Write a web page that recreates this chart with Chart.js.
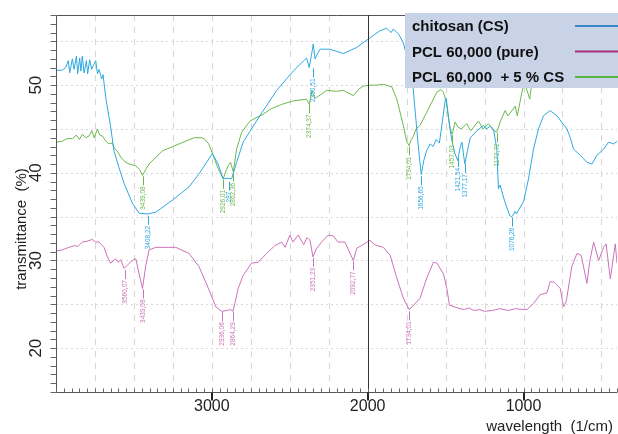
<!DOCTYPE html>
<html>
<head>
<meta charset="utf-8">
<script src="https://cdn.jsdelivr.net/npm/chart.js@4.4.0/dist/chart.umd.min.js"></script>
<style>
  html, body { margin: 0; padding: 0; background: #fff; }
  #wrap { width: 618px; height: 434px; position: relative; }
</style>
</head>
<body>
<div id="wrap"><canvas id="ftirChart"></canvas></div>
<script>
// wavenumbers (1/cm) and transmittance (%)
const csWn = [4000, 3960, 3938, 3921, 3912, 3895, 3884, 3869, 3861, 3848, 3840, 3831, 3820, 3805, 3797, 3784, 3771, 3756, 3745, 3734, 3724, 3707, 3698,
  3681, 3649, 3628, 3596, 3563, 3509, 3467, 3413, 3360, 3252, 3146, 3082, 2996, 2960, 2927, 2897, 2873, 2841, 2799, 2692, 2584, 2478, 2392, 2375, 2360,
  2349, 2338, 2306, 2242, 2156, 2070, 1985, 1921, 1878, 1850, 1835, 1800, 1771, 1730, 1708, 1690, 1672, 1656, 1640, 1622, 1600, 1580, 1560, 1540, 1524,
  1503, 1496, 1481, 1460, 1440, 1422, 1407, 1395, 1377, 1342, 1299, 1257, 1240, 1214, 1193, 1171, 1161, 1150, 1120, 1088, 1076, 1066, 1055, 1045, 1030,
  1000, 968, 936, 904, 872, 829, 786, 721, 700, 679, 636, 593, 561, 529, 486, 454, 422, 400];
const csT = [51.7, 51.7, 52.0, 52.8, 51.4, 53.0, 51.8, 53.3, 51.3, 53.1, 51.6, 53.3, 51.4, 52.8, 51.3, 52.9, 51.8, 52.4, 52.8, 51.3, 51.8, 50.7, 51.2,
  48.6, 45.2, 42.5, 40.6, 38.8, 36.5, 35.4, 35.3, 35.5, 36.9, 38.4, 39.9, 42.2, 41.0, 39.3, 39.4, 39.3, 41.2, 43.5, 46.5, 49.4, 51.6, 53.1, 52.0, 53.5,
  54.7, 53.0, 54.1, 54.1, 53.6, 54.3, 55.4, 56.2, 56.5, 56.0, 56.4, 55.8, 54.8, 52.0, 49.6, 46.0, 42.5, 39.8, 41.4, 42.5, 43.3, 43.0, 43.8, 43.4, 45.4,
  48.2, 48.5, 46.3, 43.7, 42.2, 41.4, 42.9, 43.5, 41.0, 44.0, 44.8, 45.4, 45.0, 45.3, 45.0, 42.7, 38.2, 38.6, 36.7, 35.1, 35.0, 35.2, 35.6, 35.3, 35.8,
  36.7, 39.3, 42.7, 45.0, 46.5, 47.1, 46.5, 45.0, 44.0, 42.7, 42.0, 41.2, 41.0, 42.0, 42.7, 43.5, 43.3, 43.6];

const pclWn = [4000, 3960, 3917, 3880, 3860, 3831, 3800, 3767, 3745, 3724, 3692, 3670, 3649, 3617, 3600, 3585, 3563, 3540, 3510, 3488, 3467, 3445, 3425,
  3403, 3360, 3231, 3146, 3082, 3017, 2974, 2936, 2900, 2880, 2864, 2831, 2799, 2745, 2702, 2649, 2595, 2552, 2530, 2499, 2480, 2446, 2410, 2390, 2370,
  2351, 2330, 2295, 2253, 2220, 2190, 2146, 2092, 2070, 2040, 1985, 1955, 1900, 1856, 1813, 1771, 1734, 1710, 1664, 1621, 1578, 1556, 1514, 1492, 1475,
  1407, 1380, 1350, 1320, 1280, 1250, 1200, 1150, 1100, 1050, 1000, 978, 936, 893, 850, 828, 800, 764, 743, 725, 690, 657, 630, 593, 575, 550, 518, 486,
  470, 443, 411, 400];
const pclT = [31.1, 31.2, 31.5, 31.7, 31.6, 32.1, 32.2, 32.4, 32.1, 32.1, 31.5, 30.4, 29.7, 30.2, 29.8, 30.1, 29.1, 29.5, 30.0, 30.2, 28.5, 26.8, 29.3,
  31.2, 31.5, 31.5, 30.8, 29.3, 26.6, 24.7, 24.2, 24.3, 24.4, 24.2, 26.8, 28.3, 29.7, 29.8, 30.8, 31.7, 32.1, 31.5, 32.9, 32.1, 32.9, 31.8, 32.6, 32.3,
  30.4, 31.3, 32.1, 32.9, 32.8, 32.1, 32.1, 30.0, 31.4, 31.7, 32.3, 31.8, 31.5, 30.6, 28.0, 25.7, 24.4, 24.8, 25.7, 28.0, 29.8, 29.7, 28.5, 26.8, 24.9,
  24.5, 24.4, 24.6, 24.3, 24.4, 24.2, 24.3, 24.5, 24.3, 24.5, 24.4, 24.4, 25.1, 26.1, 26.3, 27.6, 27.5, 26.8, 24.7, 25.4, 29.3, 30.8, 30.6, 27.4, 29.9,
  32.1, 30.0, 31.5, 31.9, 27.9, 31.9, 29.7];

const blendWn = [4000, 3960, 3930, 3895, 3870, 3850, 3831, 3810, 3788, 3770, 3755, 3734, 3720, 3702, 3680, 3660, 3640, 3628, 3600, 3585, 3560, 3531,
  3510, 3488, 3465, 3445, 3420, 3403, 3317, 3210, 3114, 3070, 3049, 3020, 2996, 2960, 2927, 2910, 2895, 2880, 2862, 2841, 2809, 2756, 2670, 2620, 2552,
  2478, 2392, 2374, 2358, 2340, 2327, 2263, 2200, 2156, 2092, 2060, 2028, 1985, 1942, 1900, 1845, 1813, 1771, 1750, 1734, 1720, 1706, 1690, 1664, 1621,
  1590, 1556, 1530, 1514, 1495, 1471, 1457, 1439, 1420, 1400, 1364, 1340, 1320, 1289, 1260, 1225, 1200, 1172, 1150, 1118, 1100, 1053, 1040, 1010, 995,
  970, 960, 945, 920, 880, 800, 700, 600, 500, 400];
const blendT = [43.5, 43.6, 43.9, 43.9, 44.3, 43.8, 44.4, 44.0, 44.2, 44.8, 44.0, 45.0, 44.3, 44.2, 43.6, 43.3, 43.4, 42.9, 42.3, 41.8, 41.3, 41.0,
  40.9, 40.8, 40.4, 39.7, 40.5, 41.0, 42.5, 43.3, 44.0, 44.0, 43.9, 43.3, 42.2, 40.5, 39.3, 40.2, 40.8, 41.2, 40.1, 42.7, 44.6, 45.9, 46.7, 47.3, 47.8,
  48.2, 48.4, 47.8, 49.4, 48.5, 48.6, 49.4, 49.3, 49.4, 48.8, 49.5, 49.9, 50.0, 50.0, 50.1, 49.8, 48.4, 45.4, 43.6, 43.1, 43.8, 44.2, 45.0, 45.4, 46.9,
  48.0, 49.2, 49.5, 49.2, 48.0, 45.0, 44.4, 45.8, 45.2, 45.0, 45.6, 44.8, 45.2, 45.9, 45.0, 45.6, 45.0, 44.6, 45.8, 47.1, 46.5, 47.6, 46.5, 49.2, 50.3,
  49.0, 48.4, 50.5, 52.0, 53.0, 53.5, 54.5, 55.0, 55.5, 55.5];

// peak labels: [wavenumber, transmittance at the top of the leader, text]
const csPeaks = [[3408, 35.1, '3408,22'], [2889, 39.0, '287'], [2351, 51.9, '2350,51'], [1656, 39.6, '1656,65'],
  [1421, 41.7, '1421,54'], [1377, 41.0, '1377,17'], [1076, 34.9, '1076,26']];
const blendPeaks = [[3439, 39.6, '3439,08'], [2926, 39.2, '2926,01'], [2862, 40.0, '2862,36'], [2374, 47.8, '2374,37'],
  [1734, 43.0, '1734,01'], [1457, 44.3, '1457,03'], [1172, 44.5, '1172,72']];
const pclPeaks = [[3560, 28.9, '3560,07'], [3439, 26.7, '3439,08'], [2936, 24.1, '2936,06'], [2864, 24.1, '2864,29'],
  [2351, 30.3, '2351,23'], [2092, 29.9, '2092,77'], [1734, 24.2, '1734,01']];

const yTickLabels = [20, 30, 40, 50];
const xTickLabels = [3000, 2000, 1000];

const seriesNames = ['chitosan (CS)', 'PCL 60,000 (pure)', 'PCL 60,000  + 5 % CS'];
const lineColors = ['#2ea8e0', '#cc72b8', '#6cb84e'];
const legendColors = ['#3f86c8', '#a8317f', '#58b43f'];

const FONT = '"Liberation Sans", Arial, sans-serif';

function toPoints(wn, t) {
  return wn.map((w, i) => ({ x: w, y: t[i] }));
}

function strokeLine(ctx, x1, y1, x2, y2) {
  ctx.beginPath();
  ctx.moveTo(x1, y1);
  ctx.lineTo(x2, y2);
  ctx.stroke();
}

function drawPeaks(ctx, x, y, peaks, color) {
  ctx.strokeStyle = color;
  ctx.fillStyle = color;
  ctx.lineWidth = 1;
  ctx.font = '6.5px ' + FONT;
  ctx.textAlign = 'right';
  ctx.textBaseline = 'middle';
  peaks.forEach(([wn, t, label]) => {
    const px = Math.round(x.getPixelForValue(wn)) + 0.5;
    const py = y.getPixelForValue(t);
    strokeLine(ctx, px, py, px, py + 9);
    ctx.save();
    ctx.translate(px, py + 10);
    ctx.rotate(-Math.PI / 2);
    ctx.fillText(label, 0, 0);
    ctx.restore();
  });
}

const ftirDecor = {
  id: 'ftirDecor',
  beforeDatasetsDraw(chart) {
    const { ctx, chartArea: a, scales: { x, y } } = chart;
    ctx.save();
    ctx.lineWidth = 1;
    ctx.strokeStyle = '#d6d6d6';
    ctx.setLineDash([2, 3]);
    for (let v = 20; v <= 55; v += 5) {
      const py = Math.round(y.getPixelForValue(v)) + 0.5;
      strokeLine(ctx, a.left, py, a.right, py);
    }
    ctx.setLineDash([6, 6]);
    for (let v = 500; v < 4000; v += 250) {
      if (v === 2000) continue;
      const px = Math.round(x.getPixelForValue(v)) + 0.5;
      strokeLine(ctx, px, a.top, px, a.bottom);
    }
    ctx.restore();
  },
  afterDatasetsDraw(chart) {
    const { ctx, chartArea: a, scales: { x, y } } = chart;
    ctx.save();

    drawPeaks(ctx, x, y, pclPeaks, lineColors[1]);
    drawPeaks(ctx, x, y, csPeaks, lineColors[0]);
    drawPeaks(ctx, x, y, blendPeaks, lineColors[2]);

    // frame
    ctx.strokeStyle = '#555';
    ctx.lineWidth = 1;
    const L = Math.round(a.left) + 0.5;
    const B = Math.round(a.bottom) + 0.5;
    const T = Math.round(a.top) + 0.5;
    strokeLine(ctx, L, T, a.right, T);
    strokeLine(ctx, L, T, L, B);
    strokeLine(ctx, L, B, a.right, B);

    // 2000 divider
    ctx.strokeStyle = '#333';
    const px2000 = Math.round(x.getPixelForValue(2000)) + 0.5;
    strokeLine(ctx, px2000, a.top, px2000, a.bottom);

    // x minor ticks (inside) and major ticks (outside)
    ctx.strokeStyle = '#666';
    for (let v = 400; v <= 4000; v += 50) {
      const px = Math.round(x.getPixelForValue(v)) + 0.5;
      strokeLine(ctx, px, B, px, B - 4);
    }
    ctx.strokeStyle = '#222';
    ctx.lineWidth = 2;
    xTickLabels.forEach((v) => {
      const px = Math.round(x.getPixelForValue(v));
      strokeLine(ctx, px, B, px, B + 8);
    });
    ctx.lineWidth = 1;

    // y ticks (outside)
    ctx.strokeStyle = '#666';
    for (let v = 15; v <= 58; v += 1) {
      const py = Math.round(y.getPixelForValue(v)) + 0.5;
      strokeLine(ctx, L - 6, py, L, py);
    }

    // tick labels
    ctx.fillStyle = '#222';
    ctx.font = '16px ' + FONT;
    ctx.textAlign = 'center';
    ctx.textBaseline = 'middle';
    xTickLabels.forEach((v) => {
      ctx.fillText(String(v), x.getPixelForValue(v), B + 14);
    });
    ctx.font = '17px ' + FONT;
    yTickLabels.forEach((v) => {
      ctx.save();
      ctx.translate(36, y.getPixelForValue(v));
      ctx.rotate(-Math.PI / 2);
      ctx.fillText(String(v), 0, 0);
      ctx.restore();
    });

    // axis titles
    ctx.font = '15px ' + FONT;
    ctx.save();
    ctx.translate(22, 229);
    ctx.rotate(-Math.PI / 2);
    ctx.fillText('transmittance  (%)', 0, 0);
    ctx.restore();
    ctx.textAlign = 'right';
    ctx.textBaseline = 'alphabetic';
    ctx.fillText('wavelength  (1/cm)', 613, 431);

    // legend box
    ctx.fillStyle = '#c9d3e7';
    ctx.fillRect(405, 13, 213, 75);
    ctx.font = 'bold 15px ' + FONT;
    ctx.textAlign = 'left';
    ctx.textBaseline = 'middle';
    seriesNames.forEach((name, i) => {
      const ry = 27 + i * 25.5;
      ctx.fillStyle = '#111';
      ctx.fillText(name, 412, ry);
      ctx.strokeStyle = legendColors[i];
      ctx.lineWidth = 2;
      strokeLine(ctx, 575, ry - 1, 618, ry - 1);
    });

    ctx.restore();
  },
};

new Chart(document.getElementById('ftirChart'), {
  type: 'line',
  data: {
    datasets: [
      { label: seriesNames[0], data: toPoints(csWn, csT), borderColor: lineColors[0] },
      { label: seriesNames[1], data: toPoints(pclWn, pclT), borderColor: lineColors[1] },
      { label: seriesNames[2], data: toPoints(blendWn, blendT), borderColor: lineColors[2] },
    ],
  },
  options: {
    responsive: true,
    maintainAspectRatio: false,
    animation: false,
    layout: { padding: { left: 56, top: 15, right: 1, bottom: 42 } },
    elements: {
      point: { radius: 0 },
      line: { borderWidth: 1, tension: 0, fill: false },
    },
    plugins: {
      legend: { display: false },
      tooltip: { enabled: false },
    },
    scales: {
      x: { type: 'linear', reverse: true, min: 400, max: 4000, display: false },
      y: { type: 'linear', min: 15, max: 58, display: false },
    },
  },
  plugins: [ftirDecor],
});
</script>
</body>
</html>
